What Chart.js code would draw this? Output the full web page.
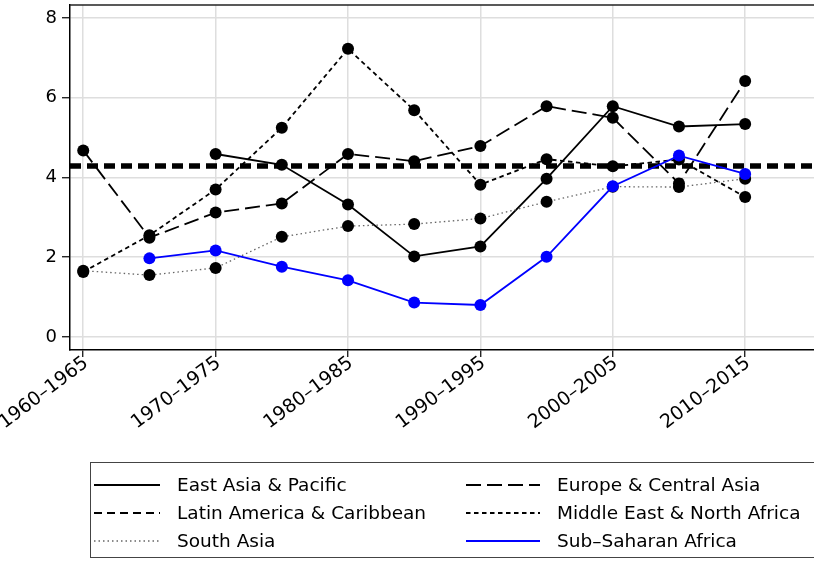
<!DOCTYPE html>
<html>
<head>
<meta charset="utf-8">
<script src="https://cdn.jsdelivr.net/npm/chart.js@4.4.0/dist/chart.umd.min.js"></script>
<style>
  html, body { margin: 0; padding: 0; background: #ffffff; }
  #wrap { position: relative; width: 814px; height: 561px; }
</style>
</head>
<body>
<div id="wrap"><canvas id="regionChart" width="814" height="561"></canvas></div>
<script>
/* ============================================
   DATA
   ============================================ */
const periods = ['1960–1965', '1965–1970', '1970–1975', '1975–1980', '1980–1985', '1985–1990',
                 '1990–1995', '1995–2000', '2000–2005', '2005–2010', '2010–2015'];

const eastAsia     = [null, null, 4.59, 4.32, 3.32, 2.02, 2.27, 3.97, 5.79, 5.28, 5.34];
const europe       = [4.68, 2.49, 3.12, 3.35, 4.59, 4.41, 4.79, 5.79, 5.50, 3.85, 6.42];
const latinAmerica = [null, null, null, null, null, null, null, null, null, null, null];
const middleEast   = [1.63, 2.55, 3.70, 5.25, 7.23, 5.69, 3.82, 4.46, 4.28, 4.45, 3.51];
const southAsia    = [1.66, 1.55, 1.73, 2.51, 2.78, 2.83, 2.97, 3.39, 3.77, 3.76, 3.97];
const subSaharan   = [null, 1.97, 2.17, 1.76, 1.42, 0.86, 0.80, 2.01, 3.78, 4.55, 4.09];

const referenceValue = 4.29;

const yTicks = [0, 2, 4, 6, 8];

// axis ranges
const xMin = -0.2, xMax = 11.04;
const yMin = -0.33, yMax = 8.33;

Chart.defaults.font.family = '"DejaVu Sans", "Liberation Sans", Arial, sans-serif';
Chart.defaults.font.size = 18;
Chart.defaults.color = '#000000';

function toPoints(values) {
  return values.map((v, i) => ({ x: i, y: v }));
}

function seriesStyle(label, values, color, dash, width, order) {
  const dot = color === '#0000ff' ? '#0000ff' : '#000000';
  return {
    label: label,
    data: toPoints(values),
    borderColor: color,
    borderDash: dash,
    borderWidth: width,
    pointRadius: 6,
    pointBackgroundColor: dot,
    pointBorderColor: dot,
    pointBorderWidth: 0,
    fill: false,
    tension: 0,
    order: order
  };
}

/* ============================================
   PLUGINS
   ============================================ */
// top frame line
const frameLine = {
  id: 'frameLine',
  afterDraw(chart) {
    const { ctx, chartArea } = chart;
    ctx.save();
    ctx.strokeStyle = '#222222';
    ctx.lineWidth = 1.5;
    ctx.beginPath();
    ctx.moveTo(chartArea.left, chartArea.top);
    ctx.lineTo(chartArea.right, chartArea.top);
    ctx.stroke();
    ctx.restore();
  }
};

// boxed legend, two columns
const boxLegend = {
  id: 'boxLegend',
  afterDraw(chart) {
    const ctx = chart.ctx;
    const items = chart.data.datasets.filter(d => d.inLegend !== false);
    ctx.save();
    ctx.strokeStyle = '#444444';
    ctx.lineWidth = 1;
    ctx.strokeRect(90.5, 462.5, 740, 95);

    const colX = [94, 466];
    const rowY = [485, 513, 541];
    const sampleLen = [66, 74];
    ctx.font = '18.5px "DejaVu Sans", "Liberation Sans", Arial, sans-serif';
    ctx.textBaseline = 'middle';
    ctx.fillStyle = '#000000';

    items.forEach((ds, i) => {
      const col = i % 2;
      const row = Math.floor(i / 2);
      const x = colX[col];
      const y = rowY[row];
      ctx.save();
      ctx.strokeStyle = ds.borderColor;
      ctx.lineWidth = ds.borderWidth;
      ctx.setLineDash(ds.borderDash || []);
      ctx.beginPath();
      ctx.moveTo(x, y);
      ctx.lineTo(x + sampleLen[col], y);
      ctx.stroke();
      ctx.restore();
      ctx.fillText(ds.label, x + sampleLen[col] + 17, y + 1);
    });
    ctx.restore();
  }
};

/* ============================================
   CHART
   ============================================ */
const ctx = document.getElementById('regionChart').getContext('2d');

new Chart(ctx, {
  type: 'line',
  data: {
    datasets: [
      seriesStyle('East Asia & Pacific', eastAsia, '#000000', [], 1.8, 6),
      seriesStyle('Europe & Central Asia', europe, '#000000', [15, 6], 1.8, 5),
      seriesStyle('Latin America & Caribbean', latinAmerica, '#000000', [8, 5], 1.8, 4),
      seriesStyle('Middle East & North Africa', middleEast, '#000000', [4.5, 3.5], 1.8, 3),
      seriesStyle('South Asia', southAsia, '#666666', [1.5, 3], 1.3, 2),
      seriesStyle('Sub–Saharan Africa', subSaharan, '#0000ff', [], 1.8, 1),
      {
        label: 'reference',
        inLegend: false,
        data: [{ x: xMin, y: referenceValue }, { x: xMax, y: referenceValue }],
        borderColor: '#000000',
        borderWidth: 5.5,
        borderDash: [11, 6],
        pointRadius: 0,
        fill: false,
        order: 7
      }
    ]
  },
  options: {
    responsive: false,
    animation: false,
    layout: { autoPadding: false, padding: { top: 5, right: 0, left: 0, bottom: 0 } },
    plugins: {
      legend: { display: false },
      tooltip: { enabled: false }
    },
    scales: {
      x: {
        type: 'linear',
        min: xMin,
        max: xMax,
        afterFit: s => { s.height = 211; s.paddingLeft = 0; s.paddingRight = 0; },
        grid: {
          color: '#dedede',
          lineWidth: 1.5,
          tickColor: '#000000',
          tickLength: 7,
          tickWidth: 1.2
        },
        border: { color: '#000000', width: 1.5 },
        ticks: {
          stepSize: 2,
          includeBounds: false,
          autoSkip: false,
          maxRotation: 37,
          minRotation: 37,
          padding: -5,
          labelOffset: 3,
          font: { size: 19 },
          color: '#000000',
          callback: value => periods[value]
        }
      },
      y: {
        min: yMin,
        max: yMax,
        afterFit: s => { s.width = 70; s.paddingTop = 0; s.paddingBottom = 0; },
        afterBuildTicks: s => { s.ticks = yTicks.map(v => ({ value: v })); },
        grid: {
          color: '#dedede',
          lineWidth: 1.5,
          tickColor: '#000000',
          tickLength: 8,
          tickWidth: 1.2
        },
        border: { color: '#000000', width: 1.5 },
        ticks: {
          padding: 5,
          color: '#000000'
        }
      }
    }
  },
  plugins: [frameLine, boxLegend]
});
</script>
</body>
</html>
